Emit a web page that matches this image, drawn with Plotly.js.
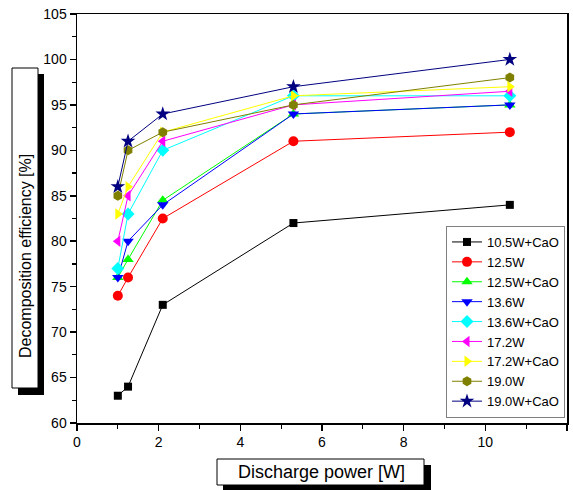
<!DOCTYPE html>
<html>
<head>
<meta charset="utf-8">
<script src="https://cdn.plot.ly/plotly-3.0.1.min.js"></script>
<style>html,body{margin:0;padding:0;background:#fff;}#chart{width:573px;height:490px;}</style>
</head>
<body>
<div id="chart"></div>
<script>
// Data
var dischargePower = [1.0, 1.25, 2.1, 5.3, 10.6];
var seriesNames = ["10.5W+CaO", "12.5W", "12.5W+CaO", "13.6W", "13.6W+CaO", "17.2W", "17.2W+CaO", "19.0W", "19.0W+CaO"];
var eff_10_5W_CaO = [63, 64, 73, 82, 84];
var eff_12_5W     = [74, 76, 82.5, 91, 92];
var eff_12_5W_CaO = [76, 78, 84.5, 94, 95];
var eff_13_6W     = [76, 80, 84, 94, 95];
var eff_13_6W_CaO = [77, 83, 90, 96, 96];
var eff_17_2W     = [80, 85, 91, 95, 96.5];
var eff_17_2W_CaO = [83, 86, 92, 96, 97];
var eff_19_0W     = [85, 90, 92, 95, 98];
var eff_19_0W_CaO = [86, 91, 94, 97, 100];
var seriesValues = [eff_10_5W_CaO, eff_12_5W, eff_12_5W_CaO, eff_13_6W, eff_13_6W_CaO, eff_17_2W, eff_17_2W_CaO, eff_19_0W, eff_19_0W_CaO];

// Styles
var colors = ["#000000", "#ff0000", "#00ff00", "#0000ff", "#00ffff", "#ff00ff", "#ffff00", "#808000", "#000080"];
var symbols = ["square", "circle", "triangle-up", "triangle-down", "diamond", "triangle-left", "triangle-right", "hexagon", "star"];
var sizes = [8, 10, 10, 10, 10, 10, 10, 10, 11];

var traces = seriesNames.map(function (name, i) {
  return {
    x: dischargePower,
    y: seriesValues[i],
    name: name,
    type: "scatter",
    mode: "lines+markers",
    line: {color: colors[i], width: 1},
    marker: {color: colors[i], symbol: symbols[i], size: sizes[i], line: {width: 0}}
  };
});

// pixel -> paper helpers (plot area 77..567 x, 14..423 y)
var L = 77, R = 567, T = 14, B = 423;
function px(p) { return (p - L) / (R - L); }
function py(p) { return (B - p) / (B - T); }

var font = "Liberation Sans, Arial, sans-serif";

var layout = {
  width: 573, height: 490,
  margin: {l: L, r: 573 - R, t: T, b: 490 - B, pad: 0},
  paper_bgcolor: "#ffffff",
  plot_bgcolor: "#ffffff",
  font: {family: font, size: 14, color: "#000"},
  showlegend: true,
  legend: {
    x: px(446), y: py(226), xanchor: "left", yanchor: "top",
    bordercolor: "#808080", borderwidth: 1, bgcolor: "#ffffff",
    font: {family: font, size: 13, color: "#000"},
    tracegroupgap: 0, itemwidth: 30
  },
  xaxis: {
    range: [0, 12], dtick: 2, tick0: 0,
    showgrid: false, zeroline: false,
    showline: true, linecolor: "#000", linewidth: 1.5, mirror: true,
    ticks: "outside", ticklen: 6, tickwidth: 1.5, tickcolor: "#000",
    minor: {dtick: 1, ticks: "outside", ticklen: 4, tickwidth: 1.2, tickcolor: "#000", showgrid: false},
    tickfont: {family: font, size: 14}
  },
  yaxis: {
    range: [60, 105], dtick: 5, tick0: 60,
    showgrid: false, zeroline: false,
    showline: true, linecolor: "#000", linewidth: 1.5, mirror: true,
    ticks: "outside", ticklen: 6, tickwidth: 1.5, tickcolor: "#000",
    minor: {dtick: 2.5, ticks: "outside", ticklen: 4, tickwidth: 1.2, tickcolor: "#000", showgrid: false},
    tickfont: {family: font, size: 14}
  },
  shapes: [
    // y title box shadow + box
    {type: "rect", xref: "paper", yref: "paper", x0: px(18), x1: px(44), y0: py(395), y1: py(74),
     fillcolor: "#000", line: {width: 0}, layer: "above"},
    {type: "rect", xref: "paper", yref: "paper", x0: px(12), x1: px(38), y0: py(388), y1: py(68),
     fillcolor: "#fff", line: {color: "#000", width: 1}, layer: "above"},
    // x title box shadow + box
    {type: "rect", xref: "paper", yref: "paper", x0: px(223), x1: px(431), y0: py(491), y1: py(465),
     fillcolor: "#000", line: {width: 0}, layer: "above"},
    {type: "rect", xref: "paper", yref: "paper", x0: px(217), x1: px(424), y0: py(485), y1: py(459),
     fillcolor: "#fff", line: {color: "#000", width: 1}, layer: "above"}
  ],
  annotations: [
    {text: "Decomposition efficiency [%]", xref: "paper", yref: "paper",
     x: px(26), y: py(256), xanchor: "center", yanchor: "middle",
     textangle: -90, showarrow: false,
     font: {family: font, size: 16, color: "#000"}},
    {text: "Discharge power [W]", xref: "paper", yref: "paper",
     x: px(321), y: py(472), xanchor: "center", yanchor: "middle",
     showarrow: false,
     font: {family: font, size: 18, color: "#000"}}
  ]
};

Plotly.newPlot("chart", traces, layout, {displayModeBar: false, staticPlot: true});
</script>
</body>
</html>
